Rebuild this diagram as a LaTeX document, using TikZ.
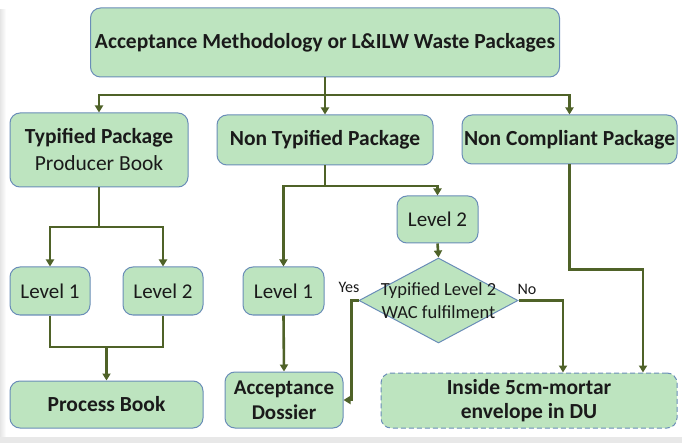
\documentclass[tikz,border=0pt]{standalone}
\usepackage{fontspec}
\setmainfont{Carlito}
\usetikzlibrary{arrows.meta,shapes.geometric,calc}
\definecolor{boxfill}{HTML}{BDE4BF}
\definecolor{boxline}{HTML}{6A8DB8}
\definecolor{flow}{HTML}{4F6228}
\definecolor{txt}{HTML}{1A1A1A}
\tikzset{
  box/.style={draw=boxline, fill=boxfill, line width=1pt, rounded corners=10pt,
    inner sep=0pt, align=center, text=txt},
  levelbox/.style={box, minimum width=80pt, minimum height=48pt,
    font=\fontsize{21}{24}\selectfont},
  conn/.style={draw=flow, line width=2.6pt,
    -{Triangle[width=8pt,length=7pt]}},
  plain/.style={draw=flow, line width=2.6pt},
  lbl/.style={font=\fontsize{16}{18}\selectfont, text=txt, inner sep=0pt},
}
\begin{document}
\begin{tikzpicture}[x=1pt,y=-1pt]
  % page and soft frame edge
  \useasboundingbox (0,0) rectangle (682,443);
  \fill[white] (0,0) rectangle (682,443);
  \shade[left color=black!10, right color=white] (0,10) rectangle (6,437);
  \fill[black!9] (0,437) rectangle (682,443);

  % boxes
  \node[box, minimum width=469pt, minimum height=69pt,
        font=\fontsize{21.5}{25}\selectfont\bfseries] (top) at (325,42.5)
        {Acceptance Methodology or L\&ILW Waste Packages};
  \node[box, minimum width=178pt, minimum height=74pt,
        font=\fontsize{21.5}{27}\selectfont] (tp) at (99,150)
        {\textbf{Typified Package}\\Producer Book};
  \node[box, minimum width=216pt, minimum height=50pt,
        font=\fontsize{21.5}{25}\selectfont\bfseries] (ntp) at (325,140)
        {Non Typified Package};
  \node[box, minimum width=215pt, minimum height=49pt,
        font=\fontsize{21.5}{25}\selectfont\bfseries] (ncp) at (569.5,139.5)
        {Non Compliant Package};

  \node[levelbox] (l1a) at (50,291) {Level 1};
  \node[levelbox] (l2a) at (163,291) {Level 2};
  \node[box, minimum width=193pt, minimum height=47pt,
        font=\fontsize{21.5}{25}\selectfont\bfseries] (pb) at (106.5,404.5)
        {Process Book};

  \node[levelbox, minimum width=81pt] (l1b) at (283.5,291) {Level 1};
  \node[box, minimum width=118pt, minimum height=56pt,
        font=\fontsize{21}{25}\selectfont\bfseries] (ad) at (284,400)
        {Acceptance\\Dossier};

  \node[levelbox, minimum width=81pt, minimum height=47pt] (l2b)
        at (437.5,219.5) {Level 2};
  \node[draw=boxline, fill=boxfill, line width=1pt, diamond, inner sep=0pt,
        minimum width=159pt, minimum height=85pt] (dia) at (438.5,300.5) {};
  \node[align=center, text=txt, inner sep=0pt,
        font=\fontsize{18.5}{23}\selectfont] (diatext) at (dia.center)
        {Typified Level 2\\WAC fulfilment};

  \node[box, dashed, dash pattern=on 5pt off 3pt, minimum width=296pt,
        minimum height=55pt, font=\fontsize{21.5}{24}\selectfont\bfseries]
        (inside) at (529,400.5) {Inside 5cm-mortar\\envelope in DU};

  % connectors
  \coordinate (j1) at (325,95);
  \draw[plain] (top.south) -- (j1);
  \draw[conn] (j1) -| (tp.north);
  \draw[conn] (j1) -- (ntp.north);
  \draw[conn] (j1) -| (ncp.north);

  \coordinate (j2) at (99,227);
  \draw[plain] (tp.south) -- (j2);
  \draw[conn] (j2) -| (l1a.north);
  \draw[conn] (j2) -| (l2a.north);

  \coordinate (j3) at (106.5,347);
  \draw[plain] (l1a.south) |- (j3) -| (l2a.south);
  \draw[conn] (j3) -- (pb.north);

  \coordinate (j4) at (325,186);
  \draw[plain] (ntp.south) -- (j4);
  \draw[conn] (j4) -| (l1b.north);
  \draw[conn] (j4) -| (l2b.north);

  \draw[conn] (l1b.south) -- (ad.north);
  \draw[conn] (l2b.south) -- (dia.north);

  \draw[conn] (dia.west) -- ++(-7,0) |- (ad.east);
  \draw[conn] (dia.east) -| ([xshift=34pt]inside.north);
  \draw[conn] (ncp.south) -- ++(0,105) -| ([xshift=114pt]inside.north);

  % branch labels
  \node[lbl] (yes) at (349,287) {Yes};
  \node[lbl] (no) at (527,289) {No};
\end{tikzpicture}
\end{document}
